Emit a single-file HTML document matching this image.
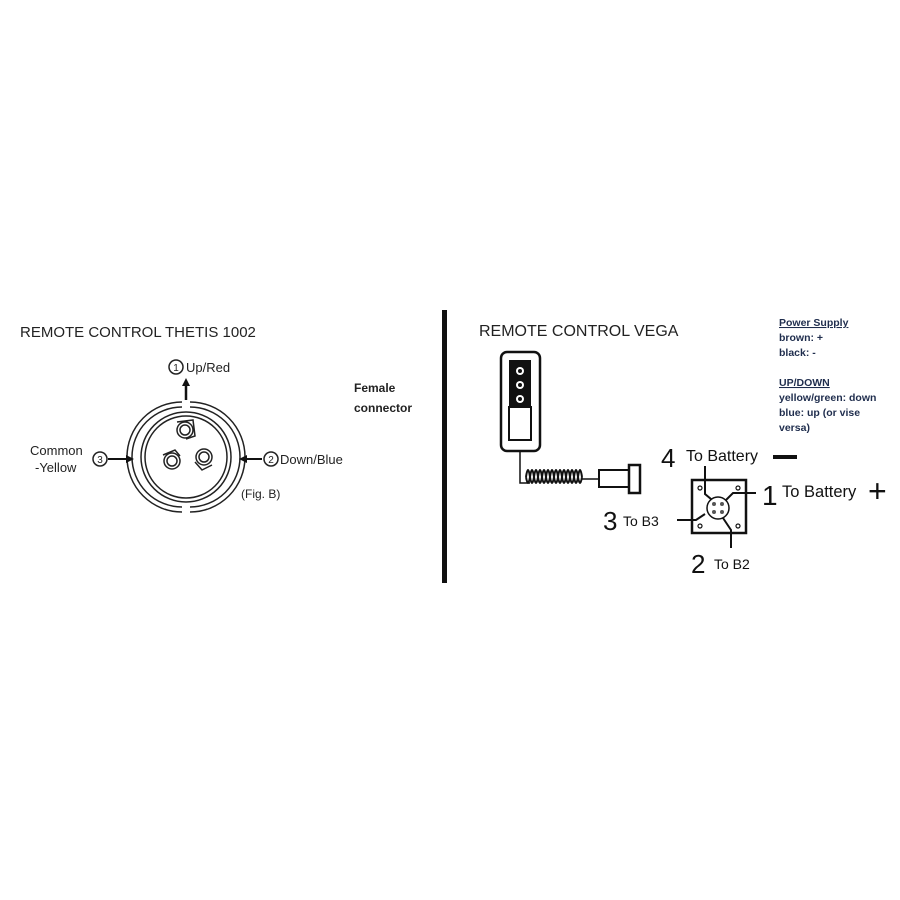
<!DOCTYPE html>
<html><head><style>body{margin:0;background:#fff}svg{display:block}</style></head><body>
<svg width="900" height="900" viewBox="0 0 900 900" xmlns="http://www.w3.org/2000/svg" font-family="Liberation Sans, sans-serif">
<rect width="900" height="900" fill="#fff"/>
<!-- left -->
<text x="20" y="337" font-size="15" fill="#222">REMOTE CONTROL THETIS 1002</text>
<g fill="none" stroke="#222" stroke-width="1.5">
<path d="M182 402 A55 55 0 0 0 182 512"/>
<path d="M190 402 A55 55 0 0 1 190 512"/>
<path d="M182 407 A50 50 0 0 0 182 507"/>
<path d="M190 407 A50 50 0 0 1 190 507"/>
<circle cx="186" cy="457" r="45"/>
<circle cx="186" cy="457" r="41"/>
<circle cx="185" cy="430" r="8"/><circle cx="185" cy="430" r="5"/>
<path d="M177 422 L193 420 L195 436 L186 439"/>
<circle cx="172" cy="461" r="8"/><circle cx="172" cy="461" r="5"/>
<path d="M163 455 L175 450 L180 456"/>
<circle cx="204" cy="457" r="8"/><circle cx="204" cy="457" r="5"/>
<path d="M195 462 L202 470 L212 465"/>
<circle cx="176" cy="367" r="7"/>
<circle cx="100" cy="459" r="7"/>
<circle cx="271" cy="459" r="7"/>
</g>
<text x="176" y="371" font-size="10" text-anchor="middle" fill="#222">1</text>
<text x="100" y="463" font-size="10" text-anchor="middle" fill="#222">3</text>
<text x="271" y="463" font-size="10" text-anchor="middle" fill="#222">2</text>
<line x1="186" y1="400" x2="186" y2="384" stroke="#111" stroke-width="2.5"/>
<path d="M182 386 L186 378 L190 386Z" fill="#111"/>
<line x1="108" y1="459" x2="127" y2="459" stroke="#111" stroke-width="2"/>
<path d="M126 455 L134 459 L126 463Z" fill="#111"/>
<line x1="262" y1="459" x2="246" y2="459" stroke="#111" stroke-width="2"/>
<path d="M247 455 L239 459 L247 463Z" fill="#111"/>
<text x="186" y="372" font-size="13" fill="#222">Up/Red</text>
<text x="280" y="464" font-size="13" fill="#222">Down/Blue</text>
<text x="30" y="455" font-size="13" fill="#222">Common</text>
<text x="35" y="472" font-size="13" fill="#222">-Yellow</text>
<text x="241" y="498" font-size="12" fill="#222">(Fig. B)</text>
<text x="354" y="392" font-size="12" font-weight="bold" fill="#222">Female</text>
<text x="354" y="412" font-size="12" font-weight="bold" fill="#222">connector</text>
<!-- divider -->
<rect x="442" y="310" width="5" height="273" fill="#111"/>
<!-- right -->
<text x="479" y="336" font-size="16" fill="#222">REMOTE CONTROL VEGA</text>
<rect x="501" y="352" width="39" height="99" rx="6" fill="none" stroke="#111" stroke-width="2.5"/>
<rect x="509" y="360" width="22" height="47" fill="#111"/>
<circle cx="520" cy="371" r="4" fill="#fff"/><circle cx="520" cy="385" r="4" fill="#fff"/><circle cx="520" cy="399" r="4" fill="#fff"/>
<circle cx="520" cy="371" r="2" fill="#111"/><circle cx="520" cy="385" r="2" fill="#111"/><circle cx="520" cy="399" r="2" fill="#111"/>
<rect x="509" y="407" width="22" height="33" fill="none" stroke="#111" stroke-width="2"/>
<path d="M520 451 V483 H530" fill="none" stroke="#111" stroke-width="1.5"/>
<path d="M526 477 q2 -14 4 0 q2 -14 4 0 q2 -14 4 0 q2 -14 4 0 q2 -14 4 0 q2 -14 4 0 q2 -14 4 0 q2 -14 4 0 q2 -14 4 0 q2 -14 4 0 q2 -14 4 0 q2 -14 4 0 q2 -14 4 0 q2 -14 4 0 M526 477 q2 12 4 0 q2 12 4 0 q2 12 4 0 q2 12 4 0 q2 12 4 0 q2 12 4 0 q2 12 4 0 q2 12 4 0 q2 12 4 0 q2 12 4 0 q2 12 4 0 q2 12 4 0 q2 12 4 0 q2 12 4 0" fill="none" stroke="#111" stroke-width="2"/>
<line x1="582" y1="479" x2="599" y2="479" stroke="#111" stroke-width="1.5"/>
<rect x="599" y="470" width="30" height="17" fill="#fff" stroke="#111" stroke-width="2"/>
<rect x="629" y="465" width="11" height="28" fill="#fff" stroke="#111" stroke-width="2.5"/>
<rect x="692" y="480" width="54" height="53" fill="none" stroke="#111" stroke-width="2.5"/>
<g fill="none" stroke="#111" stroke-width="1.2"><circle cx="700" cy="488" r="2"/><circle cx="738" cy="488" r="2"/><circle cx="700" cy="526" r="2"/><circle cx="738" cy="526" r="2"/></g>
<circle cx="718" cy="508" r="11" fill="#fff" stroke="#111" stroke-width="1.5"/>
<g fill="#555"><circle cx="714" cy="504" r="2"/><circle cx="722" cy="504" r="2"/><circle cx="714" cy="512" r="2"/><circle cx="722" cy="512" r="2"/></g>
<g fill="none" stroke="#111" stroke-width="2">
<path d="M705 466 V494 L711 499"/>
<path d="M756 493 H733 L726 500"/>
<path d="M677 520 H696 L705 514"/>
<path d="M731 548 V530 L723 518"/>
</g>
<text x="661" y="467" font-size="26" fill="#111">4</text>
<text x="686" y="461" font-size="16" fill="#111">To Battery</text>
<rect x="773" y="455" width="24" height="4" fill="#111"/>
<text x="762" y="505" font-size="28" fill="#111">1</text>
<text x="782" y="497" font-size="16.5" fill="#111">To Battery</text>
<text x="868" y="502" font-size="32" fill="#111">+</text>
<text x="603" y="530" font-size="26" fill="#111">3</text>
<text x="623" y="526" font-size="14" fill="#111">To B3</text>
<text x="691" y="573" font-size="26" fill="#111">2</text>
<text x="714" y="569" font-size="14" fill="#111">To B2</text>
<g font-size="10.5" font-weight="bold" fill="#1f2d4d">
<text x="779" y="326" text-decoration="underline">Power Supply</text>
<text x="779" y="341">brown: +</text>
<text x="779" y="356">black: -</text>
<text x="779" y="386" text-decoration="underline">UP/DOWN</text>
<text x="779" y="401">yellow/green:  down</text>
<text x="779" y="416">blue: up    (or vise</text>
<text x="779" y="431">versa)</text>
</g>
</svg>
</body></html>
